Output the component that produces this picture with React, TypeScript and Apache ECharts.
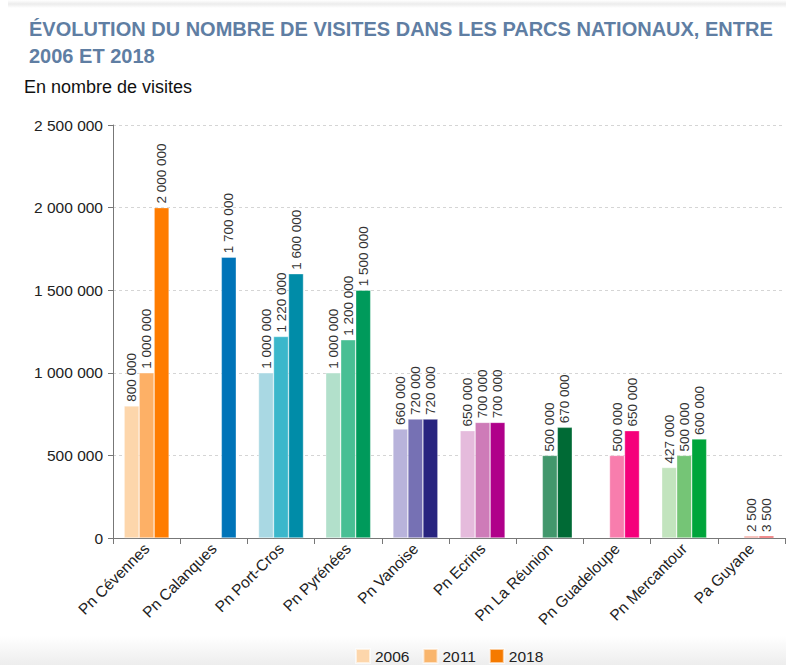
import React, { useEffect, useRef } from "react";
import * as echarts from "echarts";

const categories = [
  "Pn Cévennes",
  "Pn Calanques",
  "Pn Port-Cros",
  "Pn Pyrénées",
  "Pn Vanoise",
  "Pn Ecrins",
  "Pn La Réunion",
  "Pn Guadeloupe",
  "Pn Mercantour",
  "Pa Guyane",
];
const years = ["2006", "2011", "2018"];
const v2006 = [800000, null, 1000000, 1000000, 660000, 650000, null, null, 427000, null];
const v2011 = [1000000, null, 1220000, 1200000, 720000, 700000, 500000, 500000, 500000, 2500];
const v2018 = [2000000, 1700000, 1600000, 1500000, 720000, 700000, 670000, 650000, 600000, 3500];

const c2006 = ["#FDD6AB", "#A9D8E3", "#A9D8E3", "#B2E0CB", "#B8B3DB", "#E5BBDC", "#42976C", "#F87DAD", "#C2E4BE", "#EF8A7E"];
const c2011 = ["#FDB066", "#3BB7CB", "#3BB7CB", "#48BF94", "#7671B4", "#CE7BB8", "#42976C", "#F87DAD", "#75C576", "#EF8A7E"];
const c2018 = ["#FF7C00", "#0074B8", "#008CA8", "#009A5B", "#28247F", "#B0008A", "#006A35", "#F5007B", "#00A53B", "#E31A1C"];
const legendColors = ["#FDD6AB", "#F9B56C", "#F57A00"];

const fmt = (v: number) => String(Math.round(v)).replace(/\B(?=(\d{3})+(?!\d))/g, " ");
const FONT = "'Liberation Sans', Arial, Helvetica, sans-serif";

export default function App() {
  const ref = useRef<HTMLDivElement>(null);
  useEffect(() => {
    if (!ref.current) return;
    const chart = echarts.init(ref.current, null, { renderer: "svg" });
    const vals = [v2006, v2011, v2018];
    const cols = [c2006, c2011, c2018];
    const series = years.map((y, si) => ({
      name: y,
      type: "bar",
      barWidth: 15,
      barGap: "0%",
      barMinHeight: 2,
      itemStyle: { color: legendColors[si], borderColor: "rgba(255,255,255,0.6)", borderWidth: 0.6 },
      label: {
        show: true,
        position: "top",
        rotate: 90,
        align: "left",
        verticalAlign: "middle",
        distance: 4,
        fontSize: 13.5,
        color: "#333",
        fontFamily: FONT,
        formatter: (p: any) => fmt(p.value),
      },
      data: vals[si].map((v, i) =>
        v === null ? null : { value: v, itemStyle: { color: cols[si][i] } }
      ),
    }));
    chart.setOption({
      animation: false,
      textStyle: { fontFamily: FONT },
      title: {
        text: "ÉVOLUTION DU NOMBRE DE VISITES DANS LES PARCS NATIONAUX, ENTRE\n2006 ET 2018",
        left: 24,
        top: 10,
        textStyle: { fontSize: 20, fontWeight: "bold", color: "#5F7EA3", lineHeight: 27, fontFamily: FONT },
      },
      graphic: [
        {
          type: "rect",
          z: -10,
          shape: { x: 8, y: 0, width: 778, height: 8 },
          style: {
            fill: new echarts.graphic.LinearGradient(0, 0, 0, 1, [
              { offset: 0, color: "#ffffff" },
              { offset: 0.5, color: "#ececec" },
              { offset: 1, color: "#ffffff" },
            ]),
          },
        },
        {
          type: "rect",
          z: -10,
          shape: { x: 0, y: 636, width: 786, height: 29 },
          style: {
            fill: new echarts.graphic.LinearGradient(0, 0, 0, 1, [
              { offset: 0, color: "#ffffff" },
              { offset: 1, color: "#ededed" },
            ]),
          },
        },
        {
          type: "text",
          left: 24,
          top: 78,
          style: { text: "En nombre de visites", fontSize: 18, fill: "#111", fontFamily: FONT },
        },
      ],
      legend: {
        data: years.map((y, i) => ({ name: y, itemStyle: { color: legendColors[i] } })),
        left: 350,
        top: 643,
        itemWidth: 14,
        itemHeight: 14,
        itemGap: 13,
        icon: "rect",
        textStyle: { fontSize: 15.5, color: "#222", fontFamily: FONT },
      },
      grid: { left: 113, right: 1, top: 125, bottom: 127, containLabel: false },
      xAxis: {
        type: "category",
        data: categories,
        axisLine: { lineStyle: { color: "#777" } },
        axisTick: { show: true, length: 6, lineStyle: { color: "#777" } },
        axisLabel: { rotate: 45, fontSize: 15.5, color: "#222", margin: 8, interval: 0, fontFamily: FONT },
      },
      yAxis: {
        type: "value",
        min: 0,
        max: 2500000,
        interval: 500000,
        axisLine: { show: true, lineStyle: { color: "#777" } },
        axisTick: { show: true, length: 5, lineStyle: { color: "#777" } },
        splitLine: { lineStyle: { color: "#d5d5d5", type: [3, 3] } },
        axisLabel: { fontSize: 15.5, color: "#222", margin: 10, formatter: (v: number) => fmt(v), fontFamily: FONT },
      },
      series,
    });
    return () => chart.dispose();
  }, []);
  return <div ref={ref} style={{ position: "absolute", left: 0, top: 0, width: 786, height: 665 }} />;
}
